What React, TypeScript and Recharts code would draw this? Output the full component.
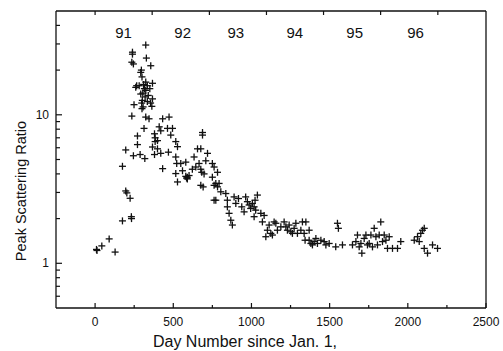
import { ScatterChart, Scatter, XAxis, YAxis } from 'recharts'

// day number (since Jan. 1, 1991) and peak scattering ratio
const dayNumber = [
  9, 12, 43, 90, 128, 175, 175, 196, 196, 203, 224, 232, 233, 235, 239, 239, 235, 245, 245, 249,
  260, 266, 271, 271, 288, 292, 300, 296, 282, 292, 302, 307, 313, 318, 324, 328, 324, 334, 324, 320,
  334, 324, 345, 356, 367, 367, 363, 350, 310, 305, 315, 298, 340, 355, 300, 367, 380, 384, 384, 380,
  399, 399, 410, 420, 432, 420, 432, 463, 473, 484, 469, 495, 516, 527, 516, 522, 516, 527, 548, 559,
  580, 590, 590, 601, 580, 585, 622, 633, 644, 655, 665, 676, 676, 682, 687, 687, 691, 676, 697, 708,
  719, 750, 761, 750, 761, 772, 761, 783, 783, 793, 772, 804, 836, 846, 846, 857, 868, 878, 889, 900,
  917, 938, 953, 963, 974, 985, 995, 1006, 1017, 1023, 1027, 1038, 1017, 1060, 1070, 1081, 1092, 1102, 1113, 1124,
  1134, 1145, 1156, 1166, 1188, 1209, 1220, 1230, 1241, 1252, 1262, 1273, 1284, 1294, 1316, 1326, 1337, 1343, 1348, 1369,
  1369, 1380, 1390, 1401, 1412, 1422, 1444, 1465, 1476, 1497, 1539, 1550, 1556, 1582, 1646, 1668, 1678, 1689, 1700, 1706,
  1721, 1732, 1742, 1753, 1764, 1774, 1785, 1796, 1806, 1817, 1827, 1838, 1849, 1860, 1870, 1881, 1902, 1934, 1955, 2041,
  2062, 2073, 2083, 2094, 2105, 2105, 2126, 2158, 2190,
]
const peakRatio = [
  1.24, 1.22, 1.31, 1.46, 1.19, 1.93, 4.5, 5.8, 3.07, 2.98, 2.74, 2.06, 2.0, 9.8, 26.4, 25.6, 22.6, 22, 5.3, 11.7,
  15.3, 15.7, 7.2, 6.3, 5.4, 19.3, 18, 20, 15.7, 13.8, 12.5, 11.3, 8.1, 5.07, 29.5, 24.1, 16.6, 15.7, 14.6, 13.2,
  12.3, 9.65, 9.4, 21.4, 16.3, 12.8, 11.4, 15, 16, 14, 15, 12, 13.5, 12, 11, 6.07, 7.45, 7.0, 6.6, 5.4,
  5.9, 6.7, 8.3, 7.8, 9.4, 5.5, 4.34, 8.1, 9.65, 7.3, 5.6, 8.1, 5.2, 6.1, 6.6, 4.7, 4.02, 3.53, 4.7, 4.2,
  4.8, 3.8, 3.7, 3.9, 3.85, 3.75, 4.3, 5.2, 4.45, 5.9, 4.7, 5.9, 4.3, 4.1, 7.6, 7.3, 3.27, 3.35, 4.0, 4.9,
  5.5, 4.7, 4.45, 3.8, 3.35, 3.45, 2.66, 4.1, 3.27, 3.45, 2.66, 3.03, 2.95, 2.66, 2.4, 2.17, 1.95, 1.81, 2.8, 2.53,
  2.73, 2.4, 2.22, 2.8, 2.6, 2.47, 2.34, 2.53, 2.4, 2.66, 2.28, 2.88, 2.06, 2.17, 1.9, 2.1, 1.51, 1.67, 1.81, 1.59,
  1.55, 1.9, 1.86, 1.67, 1.76, 1.9, 1.76, 1.67, 1.81, 1.63, 1.59, 1.72, 1.86, 1.59, 1.67, 1.9, 1.59, 1.43, 1.9, 1.67,
  1.43, 1.36, 1.33, 1.4, 1.47, 1.36, 1.43, 1.4, 1.33, 1.36, 1.29, 1.86, 1.72, 1.33, 1.33, 1.4, 1.55, 1.29, 1.36, 1.17,
  1.47, 1.55, 1.33, 1.36, 1.55, 1.29, 1.72, 1.51, 1.33, 1.55, 1.9, 1.4, 1.55, 1.43, 1.26, 1.51, 1.26, 1.26, 1.4, 1.43,
  1.51, 1.4, 1.59, 1.67, 1.72, 1.26, 1.17, 1.33, 1.26,
]

const yearNames = ['91', '92', '93', '94', '95', '96']
const yearMid = [182, 560, 900, 1277, 1660, 2050]
const yearStarts = [0, 365, 731, 1096, 1461, 1826, 2192]

const dayTicks = [0, 250, 500, 750, 1000, 1250, 1500, 1750, 2000, 2250, 2500]
const ratioTicks = [0.6, 0.7, 0.8, 0.9, 1, 2, 3, 4, 5, 6, 7, 8, 9, 10, 20, 30, 40]
const ratioLabels = [1, 10]

const YEAR_ROW = 36 // ratio level the year labels sit at

const W = 503
const H = 351
const PLOT = { left: 56, right: 486, top: 11, bottom: 308 }
const FONT = "'Liberation Sans', Arial, sans-serif"
const INK = '#111'

const points = dayNumber.map((d, i) => ({ x: d, y: peakRatio[i] }))
const years = yearNames.map((name, i) => ({ x: yearMid[i], y: YEAR_ROW, name }))

function Plus(props: any) {
  const { cx, cy } = props
  const r = 3.5
  return (
    <g stroke={INK} strokeWidth={1.3}>
      <line x1={cx - r} x2={cx + r} y1={cy} y2={cy} />
      <line x1={cx} x2={cx} y1={cy - r} y2={cy + r} />
    </g>
  )
}

function YearLabel(props: any) {
  const { cx, cy, payload } = props
  return (
    <text x={cx} y={cy} textAnchor="middle" dominantBaseline="central" fontSize={15} fontFamily={FONT} fill={INK}>
      {payload.name}
    </text>
  )
}

function DayTick(props: any) {
  const { x, payload } = props
  const major = payload.value % 500 === 0
  return (
    <g>
      <line x1={x} x2={x} y1={PLOT.bottom} y2={PLOT.bottom - (major ? 5 : 3)} stroke={INK} strokeWidth={1.2} />
      {major && (
        <text x={x} y={326} textAnchor="middle" fontSize={12} fontFamily={FONT} fill={INK}>
          {payload.value}
        </text>
      )}
    </g>
  )
}

function YearTick(props: any) {
  const { x } = props
  return <line x1={x} x2={x} y1={PLOT.top} y2={PLOT.top + 4} stroke={INK} strokeWidth={1.2} />
}

function RatioTick(props: any) {
  const { y, payload } = props
  const major = ratioLabels.includes(payload.value)
  return (
    <g>
      <line x1={PLOT.left} x2={PLOT.left + (major ? 6 : 4)} y1={y} y2={y} stroke={INK} strokeWidth={1.2} />
      {major && (
        <text x={49} y={y} textAnchor="end" dominantBaseline="central" fontSize={12} fontFamily={FONT} fill={INK}>
          {payload.value}
        </text>
      )}
    </g>
  )
}

function XTitle() {
  return (
    <text x={245} y={347} textAnchor="middle" fontSize={16} fontFamily={FONT} fill={INK}>
      Day Number since Jan. 1,
    </text>
  )
}

function YTitle() {
  return (
    <text
      x={26}
      y={191}
      transform="rotate(-90 26 191)"
      textAnchor="middle"
      fontSize={14.5}
      fontFamily={FONT}
      fill={INK}
    >
      Peak Scattering Ratio
    </text>
  )
}

export default function App() {
  return (
    <div style={{ position: 'absolute', left: 0, top: 0, width: W, height: H, background: '#fff' }}>
      <ScatterChart width={W} height={H} margin={{ top: 10, right: 16, bottom: 0, left: 16 }}>
        <XAxis
          xAxisId="day"
          type="number"
          dataKey="x"
          domain={[-250, 2500]}
          ticks={dayTicks}
          allowDataOverflow
          height={43}
          axisLine={{ stroke: INK, strokeWidth: 1.3 }}
          tickLine={false}
          tick={<DayTick />}
          interval={0}
          label={<XTitle />}
        />
        <XAxis
          xAxisId="top"
          orientation="top"
          type="number"
          dataKey="x"
          domain={[-250, 2500]}
          ticks={yearStarts}
          allowDataOverflow
          height={1}
          axisLine={{ stroke: INK, strokeWidth: 1.3 }}
          tickLine={false}
          tick={<YearTick />}
          interval={0}
        />
        <YAxis
          yAxisId="ratio"
          type="number"
          dataKey="y"
          scale="log"
          domain={[0.5, 50]}
          ticks={ratioTicks}
          allowDataOverflow
          width={40}
          axisLine={{ stroke: INK, strokeWidth: 1.3 }}
          tickLine={false}
          tick={<RatioTick />}
          interval={0}
          label={<YTitle />}
        />
        <YAxis
          yAxisId="right"
          orientation="right"
          type="number"
          dataKey="y"
          scale="log"
          domain={[0.5, 50]}
          allowDataOverflow
          width={1}
          axisLine={{ stroke: INK, strokeWidth: 1.3 }}
          tickLine={false}
          tick={false}
        />
        <Scatter
          xAxisId="day"
          yAxisId="ratio"
          data={points}
          shape={<Plus />}
          isAnimationActive={false}
        />
        <Scatter
          xAxisId="top"
          yAxisId="right"
          data={years}
          shape={<YearLabel />}
          isAnimationActive={false}
        />
      </ScatterChart>
    </div>
  )
}
